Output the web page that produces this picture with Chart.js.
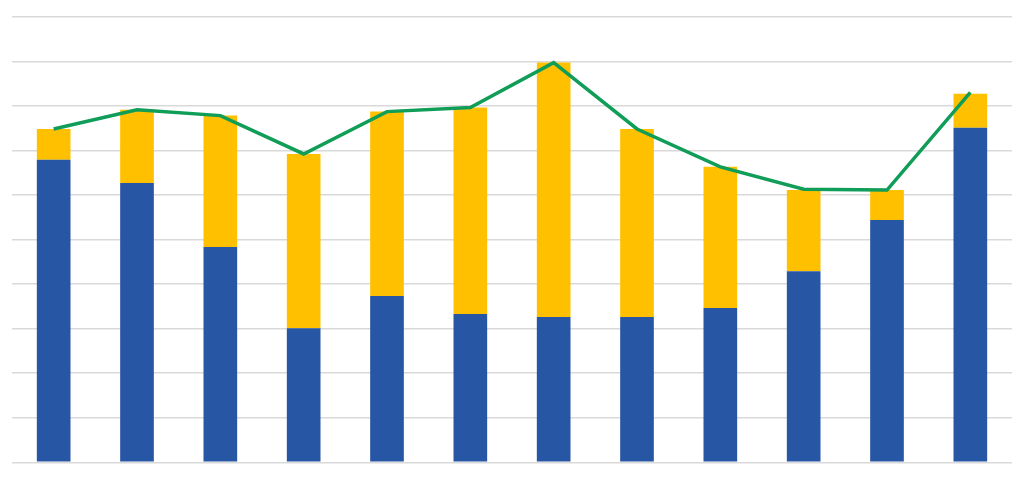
<!DOCTYPE html>
<html>
<head>
<meta charset="utf-8">
<script src="https://cdn.jsdelivr.net/npm/chart.js@4/dist/chart.umd.min.js"></script>
<style>
html,body{margin:0;padding:0;background:#fff;}
#wrap{width:1024px;height:484px;position:relative;}
</style>
</head>
<body>
<div id="wrap"><canvas id="c" width="1024" height="484"></canvas></div>
<script>
const categories = ["1","2","3","4","5","6","7","8","9","10","11","12"];
const blueValues   = [6.79, 6.27, 4.83, 3.01, 3.73, 3.33, 3.26, 3.26, 3.46, 4.29, 5.44, 7.51];
const yellowValues = [0.69, 1.64, 2.95, 3.91, 4.14, 4.63, 5.71, 4.22, 3.17, 1.82, 0.67, 0.76];
const lineValues   = [7.48, 7.91, 7.78, 6.92, 7.87, 7.96, 8.97, 7.48, 6.63, 6.13, 6.11, 8.30];
const yTicks = [0,1,2,3,4,5,6,7,8,9,10];

new Chart(document.getElementById('c'), {
  data: {
    labels: categories,
    datasets: [
      { type: 'line', data: lineValues, borderColor: '#0F9D58', borderWidth: 3.5,
        pointRadius: 0, fill: false, tension: 0, stack: 'line', order: 0 },
      { type: 'bar', data: blueValues, backgroundColor: '#2757A4', stack: 'bars',
        barPercentage: 0.404, categoryPercentage: 1.0, order: 1 },
      { type: 'bar', data: yellowValues, backgroundColor: '#FFC000', stack: 'bars',
        barPercentage: 0.404, categoryPercentage: 1.0, order: 1 }
    ]
  },
  options: {
    responsive: false,
    animation: false,
    layout: { padding: { left: 12, right: 12, top: 16.7, bottom: 21.7 } },
    plugins: { legend: { display: false }, tooltip: { enabled: false } },
    scales: {
      x: { stacked: true, display: false },
      y: { stacked: true, min: 0, max: 10,
           afterBuildTicks: (ax) => { ax.ticks = yTicks.map(v => ({ value: v })); },
           ticks: { display: false },
           border: { display: false },
           grid: { color: '#D9D9D9', lineWidth: 1.5, drawTicks: false } }
    }
  }
});
</script>
</body>
</html>
